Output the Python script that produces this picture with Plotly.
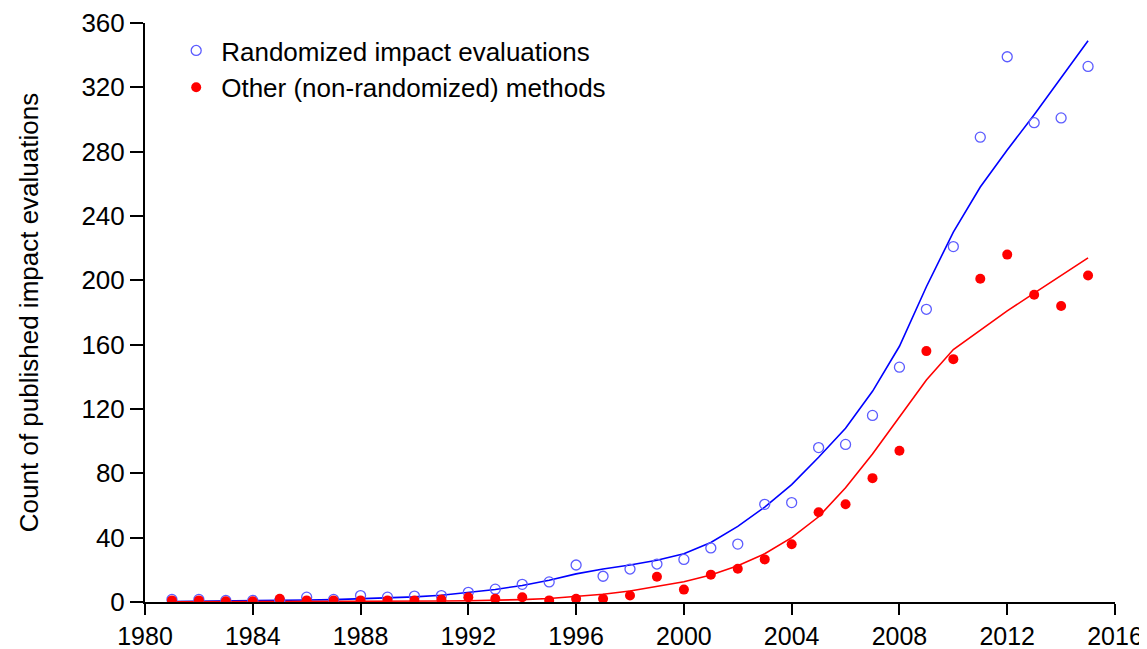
import plotly.graph_objects as go

years = list(range(1981, 2016))

randomized = [1.6, 1.6, 1, 1, 1, 3, 1.6, 4, 3, 3.7, 4, 6, 8, 11, 12.5,
              23, 16, 20.5, 23.6, 26.5, 33.6, 36, 60.7, 61.8, 96, 98,
              116, 146, 182, 221, 289, 339, 298, 301, 333]

other = [1, 1, 0.5, 0.5, 2, 1, 1, 1, 1, 1, 1.5, 3, 2, 3, 1,
         2, 2, 4, 15.7, 7.7, 17, 20.7, 26.5, 35.9, 55.8, 60.8,
         77, 94, 156, 151, 201, 216, 191, 184, 203]

randomized_fit = [0.3, 0.4, 0.5, 0.7, 0.9, 1.2, 1.5, 2.0, 2.5, 3.2, 4.2, 5.8, 7.8, 10.3, 13.5,
                  17.5, 20.5, 23, 26, 30, 37, 47, 59, 73, 90, 108,
                  131, 159, 196, 230, 258, 281, 303, 326, 349]

other_fit = [0.2, 0.2, 0.2, 0.3, 0.3, 0.3, 0.4, 0.4, 0.5, 0.5, 0.6, 0.8, 1.0, 1.5, 2.2,
             3.3, 4.8, 6.8, 9.5, 12.6, 16.8, 22.5, 30, 40, 53, 71,
             92, 115, 138, 157, 169, 181, 192, 203, 214]

x_ticks = list(range(1980, 2017, 4))
y_ticks = list(range(0, 361, 40))

FONT = "Liberation Sans, Arial, sans-serif"
FS = 26

fig = go.Figure()

fig.add_trace(go.Scatter(x=years, y=randomized_fit, mode="lines",
                         line=dict(color="#0000ff", width=1.6),
                         showlegend=False, hoverinfo="skip"))
fig.add_trace(go.Scatter(x=years, y=other_fit, mode="lines",
                         line=dict(color="#ff0000", width=1.6),
                         showlegend=False, hoverinfo="skip"))

fig.add_trace(go.Scatter(x=years, y=randomized, mode="markers",
                         name="Randomized impact evaluations",
                         marker=dict(symbol="circle-open", size=10,
                                     color="#5c5cff", line=dict(width=1.3, color="#5c5cff"))))
fig.add_trace(go.Scatter(x=years, y=other, mode="markers",
                         name="Other (non-randomized) methods",
                         marker=dict(symbol="circle", size=10, color="#ff0000")))

fig.update_layout(
    width=1147, height=649,
    margin=dict(l=137, r=40, t=15, b=55),
    paper_bgcolor="white", plot_bgcolor="white",
    font=dict(family=FONT, size=FS, color="#000000"),
    showlegend=True,
    legend=dict(x=0.027, y=0.993, xanchor="left", yanchor="top",
                font=dict(family=FONT, size=FS, color="#000000"),
                bgcolor="rgba(0,0,0,0)", itemwidth=40, tracegroupgap=0),
    xaxis=dict(range=[1980, 2016], tickvals=x_ticks, ticktext=[str(v) for v in x_ticks],
               showgrid=False, zeroline=False, showline=True, linecolor="black", linewidth=2,
               ticks="outside", ticklen=11, tickwidth=2, tickcolor="black", automargin=False,
               tickfont=dict(family=FONT, size=25, color="#000000")),
    yaxis=dict(range=[0, 360], tickvals=y_ticks, ticktext=[str(v) for v in y_ticks],
               showgrid=False, zeroline=False, showline=True, linecolor="black", linewidth=2,
               ticks="outside", ticklen=13, tickwidth=2, tickcolor="black", automargin=False,
               tickfont=dict(family=FONT, size=FS, color="#000000"),
               title=dict(text="Count of published impact evaluations",
                          font=dict(family=FONT, size=FS, color="#000000"), standoff=35)),
)

fig.write_html("out.html")
